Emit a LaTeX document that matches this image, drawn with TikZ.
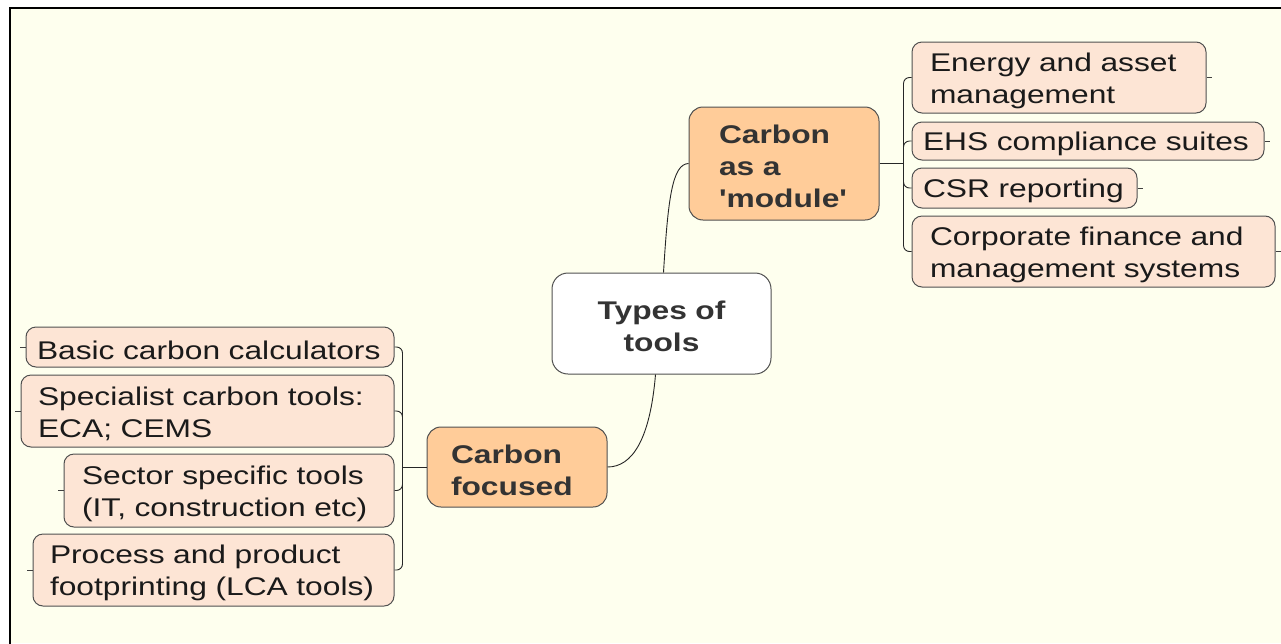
\documentclass[tikz,border=0pt]{standalone}
\usepackage{fontspec}
\setmainfont{Liberation Sans}[FakeStretch=1.24, Ligatures=TeXOff]
\definecolor{bgyellow}{RGB}{254,255,238}
\definecolor{peach}{RGB}{255,204,153}
\definecolor{lightpeach}{RGB}{253,229,213}
\definecolor{edge}{RGB}{80,80,80}
\definecolor{boldtext}{RGB}{51,51,51}
\definecolor{normtext}{RGB}{26,26,26}
\tikzset{
  box/.style={draw=edge, line width=1pt, rounded corners=10pt, align=left,
    font=\fontsize{25.6}{32}\selectfont, text=normtext, inner ysep=0pt,
    execute at begin node={\rule{0pt}{25pt}}},
  leafbox/.style={box, fill=lightpeach},
  mainbox/.style={box, fill=peach, rounded corners=14pt, font=\fontsize{25.6}{32}\selectfont\bfseries, text=boldtext},
  rootbox/.style={box, fill=white, rounded corners=16pt, align=center, font=\fontsize{25.6}{32}\selectfont\bfseries, text=boldtext},
  link/.style={draw=black!85, line width=0.9pt},
  tick/.style={draw=black!75, line width=0.8pt},
}
\begin{document}
\begin{tikzpicture}[x=1pt,y=-1pt]
\useasboundingbox (0,0) rectangle (1281,643);
\fill[white] (0,0) rectangle (1281,643);
\fill[bgyellow] (10,8) rectangle (1281,643);
\draw[line width=1.5pt, black] (10,645) -- (10,8) -- (1283,8);

% root
\node[rootbox, minimum width=219pt, minimum height=101pt, text width=200pt] (types) at (661.5,323.5) {Types of\\tools};

% main branches
\node[mainbox, minimum width=190pt, minimum height=113pt, inner xsep=30pt, text width=130pt] (module) at (784,163.5) {\mbox{Carbon}\\\mbox{as a}\\\mbox{'module'}};
\node[mainbox, minimum width=180pt, minimum height=80pt, inner xsep=24pt, text width=132pt] (focused) at (517,467) {\mbox{Carbon}\\\mbox{focused}};

% right leaves
\node[leafbox, minimum width=294pt, minimum height=71pt, inner xsep=18pt, text width=258pt] (e1) at (1059,77.5) {\mbox{Energy and asset}\\\mbox{management}};
\node[leafbox, minimum width=352pt, minimum height=38pt, inner xsep=11pt, text width=330pt] (e2) at (1088,141) {\mbox{EHS compliance suites}};
\node[leafbox, minimum width=225pt, minimum height=40pt, inner xsep=11pt, text width=203pt] (e3) at (1024.5,188) {\mbox{CSR reporting}};
\node[leafbox, minimum width=363pt, minimum height=71pt, inner xsep=18pt, text width=327pt] (e4) at (1093.5,251.5) {\mbox{Corporate finance and}\\\mbox{management systems}};

% left leaves
\node[leafbox, minimum width=368pt, minimum height=40pt, inner xsep=11pt, text width=346pt] (l1) at (210,347) {\mbox{Basic carbon calculators}};
\node[leafbox, minimum width=373pt, minimum height=72pt, inner xsep=17pt, text width=339pt] (l2) at (207.5,411) {\mbox{Specialist carbon tools:}\\\mbox{ECA; CEMS}};
\node[leafbox, minimum width=330pt, minimum height=73pt, inner xsep=18pt, text width=294pt] (l3) at (229,490.5) {\mbox{Sector specific tools}\\\mbox{(IT, construction etc)}};
\node[leafbox, minimum width=361pt, minimum height=72pt, inner xsep=17pt, text width=327pt] (l4) at (213.5,570) {\mbox{Process and product}\\\mbox{footprinting (LCA tools)}};

% root connectors
\draw[link] ([xshift=2pt]types.north) .. controls (668,200) and (672,164) .. (module.west);
\draw[link] ([xshift=-6pt]types.south) .. controls (650,440) and (632,467) .. (focused.east);

% right bracket
\draw[link] (module.east) -- ++(24,0) coordinate (mj);
\foreach \n in {e1,e2,e3,e4}{
  \draw[link, rounded corners=6pt] (mj) |- (\n.west);
  \draw[tick] (\n.east) -- ++(5,0);
}

% left bracket
\draw[link] (focused.west) -- ++(-24,0) coordinate (fj);
\foreach \n in {l1,l2,l3,l4}{
  \draw[link, rounded corners=6pt] (fj) |- (\n.east);
  \draw[tick] (\n.west) -- ++(-6,0);
}
\end{tikzpicture}
\end{document}
